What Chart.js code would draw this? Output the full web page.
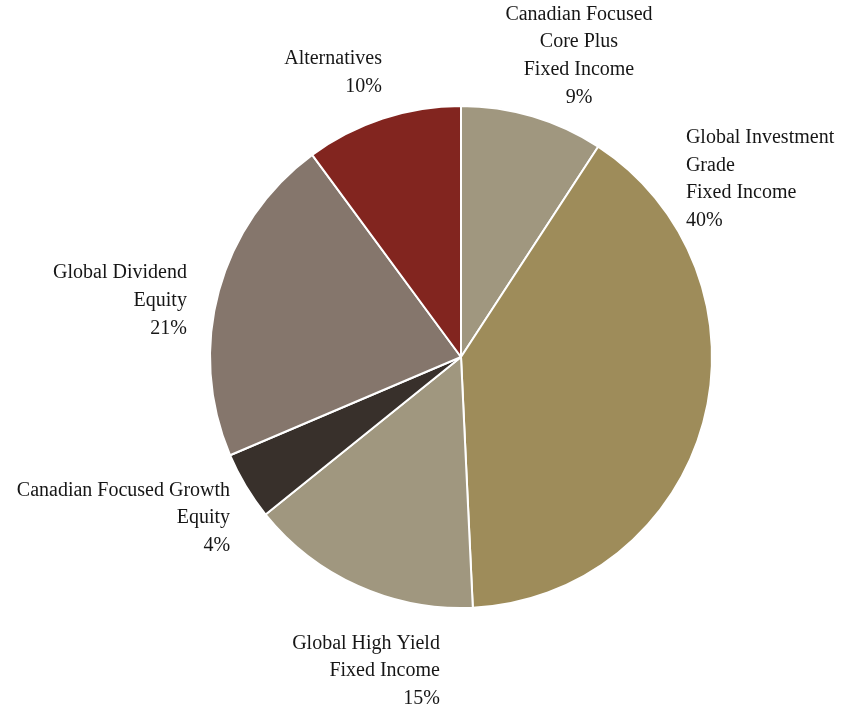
<!DOCTYPE html>
<html>
<head>
<meta charset="utf-8">
<script src="https://cdn.jsdelivr.net/npm/chart.js@4.4.1/dist/chart.umd.min.js"></script>
<style>
    html, body { margin: 0; padding: 0; background: #ffffff; }
    #wrap { width: 843px; height: 710px; position: relative; }
</style>
</head>
<body>
<div id="wrap"><canvas id="grafico"></canvas></div>
<script>
// slices clockwise from 12 o'clock
const categorias = [
    ["Canadian Focused", "Core Plus", "Fixed Income"],
    ["Global Investment", "Grade", "Fixed Income"],
    ["Global High Yield", "Fixed Income"],
    ["Canadian Focused Growth", "Equity"],
    ["Global Dividend", "Equity"],
    ["Alternatives"]
];
// printed (rounded) percentages
const percentuais = [9, 40, 15, 4, 21, 10];
const valores = [9.2, 40.05, 14.95, 4.4, 21.3, 10.1];
const cores = ["#a0977f", "#9e8c5a", "#a0977f", "#38302b", "#85766c", "#82251f"];

// label anchors, relative to pie centre in units of radius
const posRotulos = [
    { align: "center", dx: 0.470, dy: -1.365 },
    { align: "left", dx: 0.896, dy: -0.874 },
    { align: "right", dx: -0.084, dy: 1.141 },
    { align: "right", dx: -0.920, dy: 0.532 },
    { align: "right", dx: -1.092, dy: -0.335 },
    { align: "right", dx: -0.315, dy: -1.189 }
];

const rotulosPlugin = {
    id: "rotulos",
    afterDraw(chart) {
        const ctx = chart.ctx;
        const arc = chart.getDatasetMeta(0).data[0];
        const cx = arc.x, cy = arc.y, r = arc.outerRadius;
        ctx.save();
        ctx.fillStyle = "#161616";
        ctx.font = "20px 'Liberation Serif', 'DejaVu Serif', serif";
        ctx.textBaseline = "middle";
        categorias.forEach(function(linhas, i) {
            const p = posRotulos[i];
            const todas = linhas.concat([percentuais[i] + "%"]);
            ctx.textAlign = p.align;
            todas.forEach(function(t, j) {
                ctx.fillText(t, cx + p.dx * r, cy + p.dy * r + j * 27.7);
            });
        });
        ctx.restore();
    }
};

document.addEventListener("DOMContentLoaded", function() {
    const ctx = document.getElementById("grafico").getContext("2d");
    new Chart(ctx, {
        type: "pie",
        data: {
            labels: categorias.map(function(c) { return c.join(" "); }),
            datasets: [{
                data: valores,
                backgroundColor: cores,
                borderColor: "#ffffff",
                borderWidth: 2
            }]
        },
        options: {
            responsive: true,
            maintainAspectRatio: false,
            animation: false,
            layout: {
                padding: { left: 209, right: 130, top: 105, bottom: 101 }
            },
            plugins: {
                legend: { display: false },
                tooltip: { enabled: false }
            }
        },
        plugins: [rotulosPlugin]
    });
});
</script>
</body>
</html>
